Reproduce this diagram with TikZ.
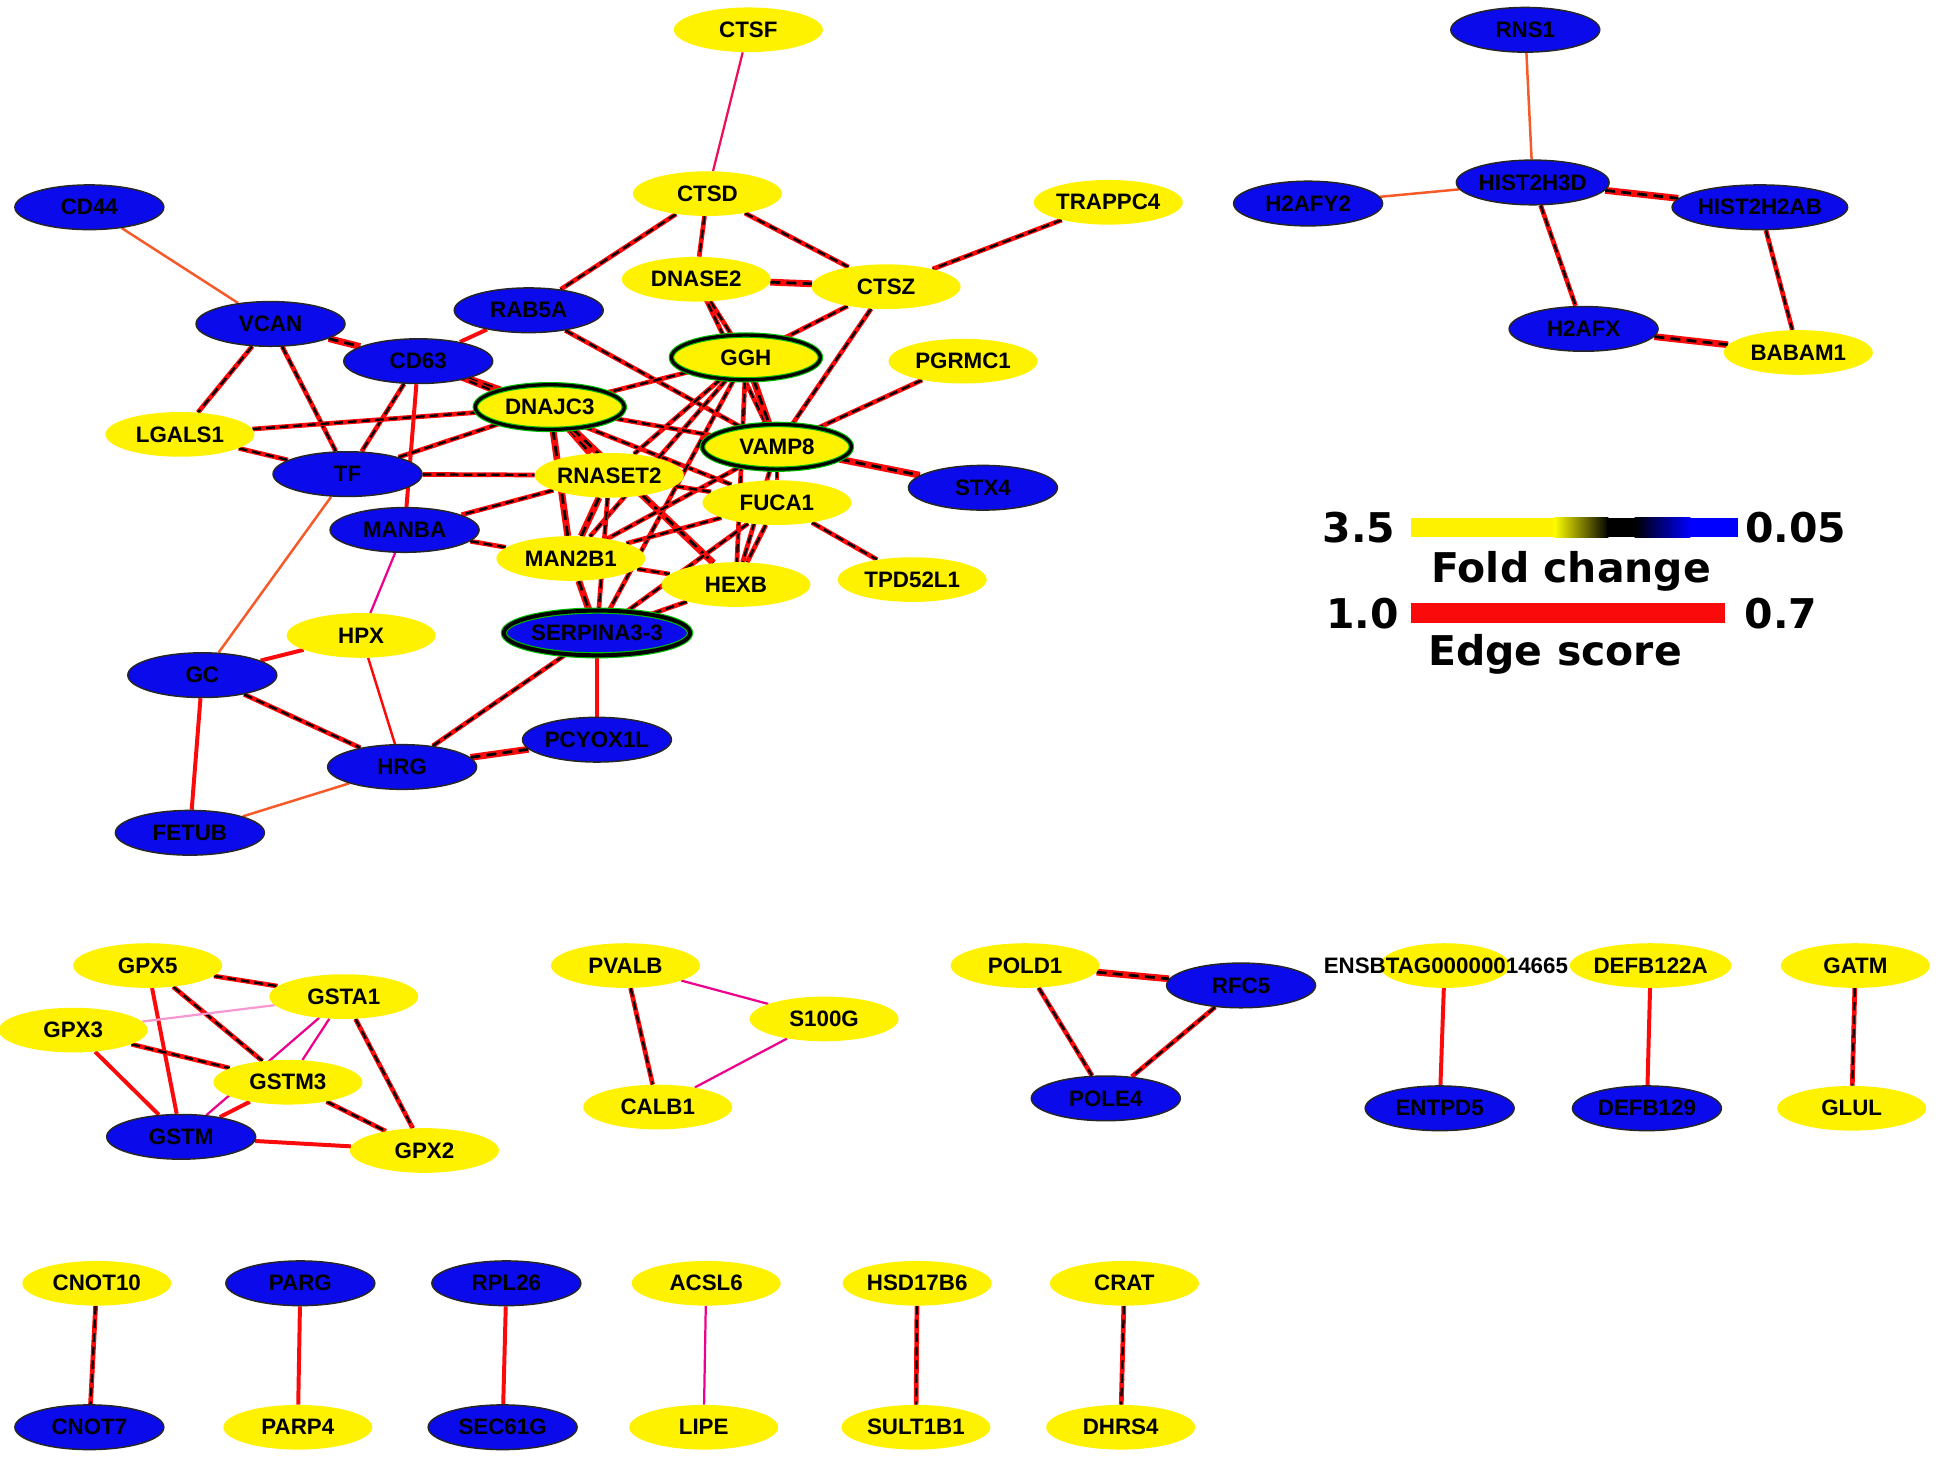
\documentclass[tikz,border=0pt]{standalone}
\usepackage{fontspec}
\setmainfont{Liberation Sans}
\newfontfamily\legfont{DejaVu Sans}
\usetikzlibrary{shapes.geometric}
\pgfdeclarelayer{bg}
\pgfdeclarelayer{edges}
\pgfsetlayers{bg,edges,main}
\definecolor{nodeblue}{RGB}{10,10,235}
\definecolor{edgered}{RGB}{250,10,10}
\definecolor{paleedge}{RGB}{245,90,40}
\tikzset{
  gene/.style={ellipse, minimum width=120bp, minimum height=36bp, inner sep=0pt,
    font=\fontsize{18bp}{20bp}\selectfont\bfseries, text=black},
  Y/.style={gene, fill=yellow},
  B/.style={gene, fill=nodeblue, draw=black!85, line width=1.2bp},
  Ys/.style={gene, fill=yellow, draw=green!75!black, double=black, double distance=2.6bp, line width=0.9bp},
  Bs/.style={gene, fill=nodeblue, draw=green!75!black, double=black, double distance=3.2bp, line width=0.9bp},
  rd/.style={draw=edgered, line width=3.8bp, postaction={draw=black, line width=1.8bp, dash pattern=on 7bp off 4bp}},
  rt/.style={draw=edgered, line width=5.5bp, postaction={draw=black, line width=2.2bp, dash pattern=on 8bp off 5bp}},
  rs/.style={draw=edgered, line width=3.2bp},
  tm/.style={draw=magenta, line width=1.8bp},
  ty/.style={draw=paleedge, line width=2bp},
  leg/.style={font=\legfont\fontsize{33bp}{36bp}\bfseries, text=black, inner sep=0pt},
  etxt/.style={font=\fontsize{18bp}{20bp}\selectfont\bfseries, text=black, inner sep=0pt},
}
\begin{document}
\begin{tikzpicture}[x=1bp, y=-1bp]
\useasboundingbox (0,0) rectangle (1568,1180);
\begin{pgfonlayer}{bg}
\fill[white] (0,0) rectangle (1568,1180);
\end{pgfonlayer}

% ---------- main cluster ----------
\node[Y] (ctsf) at (603,24) {CTSF};
\node[Y] (ctsd) at (570,156) {CTSD};
\node[Y] (trappc4) at (893,163) {TRAPPC4};
\node[B] (cd44) at (72,167) {CD44};
\node[Y] (dnase2) at (561,225) {DNASE2};
\node[Y] (ctsz) at (714,231) {CTSZ};
\node[B] (vcan) at (218,261) {VCAN};
\node[B] (rab) at (426,250) {RAB5A};
\node[B] (cd63) at (337,291) {CD63};
\node[Ys] (ggh) at (601,288) {GGH};
\node[Y] (pgrmc1) at (776,291) {PGRMC1};
\node[Ys] (dnajc3) at (443,328) {DNAJC3};
\node[Y] (lgals1) at (145,350) {LGALS1};
\node[Ys] (vamp8) at (626,360) {VAMP8};
\node[B] (tf) at (280,382) {TF};
\node[Y] (rnaset2) at (491,383) {RNASET2};
\node[B] (stx4) at (792,393) {STX4};
\node[Y] (fuca1) at (626,405) {FUCA1};
\node[B] (manba) at (326,427) {MANBA};
\node[Y] (man2b1) at (460,450) {MAN2B1};
\node[Y] (hexb) at (593,471) {HEXB};
\node[Y] (tpd) at (735,467) {TPD52L1};
\node[Bs] (serp) at (481,510) {SERPINA3-3};
\node[Y] (hpx) at (291,512) {HPX};
\node[B] (gc) at (163,544) {GC};
\node[B] (pcyox) at (481,596) {PCYOX1L};
\node[B] (hrg) at (324,618) {HRG};
\node[B] (fetub) at (153,671) {FETUB};

% ---------- top right cluster ----------
\node[B] (rns1) at (1229,24) {RNS1};
\node[B] (hist3d) at (1235,147) {HIST2H3D};
\node[B] (h2afy2) at (1054,164) {H2AFY2};
\node[B] (hist2ab) at (1418,167) {HIST2H2AB};
\node[B] (h2afx) at (1276,265) {H2AFX};
\node[Y] (babam1) at (1449,284) {BABAM1};

% ---------- legend ----------
\node[leg] (l35) at (1095,425) {3.5};
\node[leg] (l005) at (1447,425) {0.05};
\node[leg] (lfold) at (1266,460) {Fold change};
\node[leg] (l10) at (1098,494) {1.0};
\node[leg] (l07) at (1435,494) {0.7};
\node[leg] (ledge) at (1253,527) {Edge score};
\fill[yellow] (1137,417) rectangle (1252,433);
\shade[left color=yellow, right color=black] (1252,417) rectangle (1296,433);
\fill[black] (1295,417) rectangle (1318,433);
\shade[left color=black, right color=blue] (1317,417) rectangle (1362,433);
\fill[blue] (1361,417) rectangle (1400,433);
\fill[edgered] (1137,486) rectangle (1390,502);

% ---------- bottom clusters ----------
\node[Y] (gpx5) at (119,778) {GPX5};
\node[Y] (gsta1) at (277,803) {GSTA1};
\node[Y] (gpx3) at (59,830) {GPX3};
\node[Y] (gstm3) at (232,872) {GSTM3};
\node[B] (gstm) at (146,916) {GSTM};
\node[Y] (gpx2) at (342,927) {GPX2};
\node[Y] (pvalb) at (504,778) {PVALB};
\node[Y] (s100g) at (664,821) {S100G};
\node[Y] (calb1) at (530,892) {CALB1};
\node[Y] (pold1) at (826,778) {POLD1};
\node[B] (rfc5) at (1000,794) {RFC5};
\node[B] (pole4) at (891,885) {POLE4};
\node[Y, minimum width=105bp] (ens) at (1164,778) {};
\node[etxt] (enstext) at (1165,778) {ENSBTAG00000014665};
\node[B] (entpd5) at (1160,893) {ENTPD5};
\node[Y] (defb122a) at (1330,778) {DEFB122A};
\node[B] (defb129) at (1327,893) {DEFB129};
\node[Y] (gatm) at (1495,778) {GATM};
\node[Y] (glul) at (1492,893) {GLUL};
\node[Y] (cnot10) at (78,1034) {CNOT10};
\node[B] (cnot7) at (72,1150) {CNOT7};
\node[B] (parg) at (242,1034) {PARG};
\node[Y] (parp4) at (240,1150) {PARP4};
\node[B] (rpl26) at (408,1034) {RPL26};
\node[B] (sec61g) at (405,1150) {SEC61G};
\node[Y] (acsl6) at (569,1034) {ACSL6};
\node[Y] (lipe) at (567,1150) {LIPE};
\node[Y] (hsd) at (739,1034) {HSD17B6};
\node[Y] (sult) at (738,1150) {SULT1B1};
\node[Y] (crat) at (906,1034) {CRAT};
\node[Y] (dhrs4) at (903,1150) {DHRS4};

\begin{pgfonlayer}{edges}
% main cluster
\draw[tm, draw=magenta!55!red] (ctsf) -- (ctsd);
\draw[rd] (ctsd) -- (rab);
\draw[rd] (ctsd) -- (dnase2);
\draw[rd] (ctsd) -- (ctsz);
\draw[rd] (trappc4) -- (ctsz);
\draw[rt] (dnase2) -- (ctsz);
\draw[rd] (dnase2) -- (ggh);
\draw[rd] (dnase2.center) -- (vamp8);
\draw[rd] (ctsz) -- (ggh);
\draw[rd] (ctsz) -- (vamp8);
\draw[ty] (cd44) -- (vcan);
\draw[rt] (vcan) -- (cd63);
\draw[rd] (vcan) -- (lgals1);
\draw[rd] (vcan) -- (tf);
\draw[rs] (rab) -- (cd63);
\draw[rd] (rab) -- (vamp8);
\draw[rt] (cd63) -- (dnajc3);
\draw[rd] (cd63.center) -- (fuca1);
\draw[rd] (cd63) -- (tf);
\draw[rs] (cd63) -- (manba);
\draw[rd] (lgals1) -- (dnajc3);
\draw[rd] (lgals1) -- (tf);
\draw[rd] (tf) -- (dnajc3);
\draw[rd] (tf) -- (rnaset2);
\draw[ty] (tf) -- (gc);
\draw[rd] (ggh) -- (dnajc3);
\draw[rt] (ggh) -- (vamp8);
\draw[rd] (ggh) -- (rnaset2);
\draw[rd] (ggh) -- (man2b1);
\draw[rd] (ggh) -- (serp);
\draw[rd] (ggh) -- (hexb);
\draw[rd] (pgrmc1) -- (vamp8);
\draw[rd] (dnajc3) -- (vamp8);
\draw[rt] (dnajc3) -- (rnaset2);
\draw[rt] (dnajc3) -- (man2b1);
\draw[rt] (dnajc3) -- (hexb);
\draw[rt] (vamp8) -- (stx4);
\draw[rd] (vamp8) -- (fuca1);
\draw[rd] (vamp8) -- (hexb);
\draw[rd] (vamp8) -- (man2b1);
\draw[rd] (rnaset2) -- (manba);
\draw[rt] (rnaset2) -- (man2b1);
\draw[rd] (rnaset2) -- (fuca1);
\draw[rd] (rnaset2) -- (serp);
\draw[rd] (fuca1) -- (man2b1);
\draw[rd] (fuca1) -- (hexb);
\draw[rd] (fuca1) -- (serp);
\draw[rd] (fuca1) -- (tpd);
\draw[rd] (man2b1) -- (hexb);
\draw[rt] (man2b1) -- (serp);
\draw[rd] (hexb) -- (serp);
\draw[rd] (manba) -- (man2b1);
\draw[tm] (manba) -- (hpx);
\draw[rs] (gc) -- (hpx);
\draw[rd] (gc) -- (hrg);
\draw[rs] (gc) -- (fetub);
\draw[rs, line width=2bp] (hpx) -- (hrg);
\draw[rd] (hrg) -- (serp);
\draw[rt] (hrg) -- (pcyox);
\draw[ty] (hrg) -- (fetub);
\draw[rs] (serp) -- (pcyox);
% top right
\draw[ty] (rns1) -- (hist3d);
\draw[ty] (h2afy2) -- (hist3d);
\draw[rt] (hist3d) -- (hist2ab);
\draw[rd] (hist3d) -- (h2afx);
\draw[rd] (hist2ab) -- (babam1);
\draw[rt] (h2afx) -- (babam1);
% bottom
\draw[rd] (gpx5) -- (gsta1);
\draw[rs] (gpx5) -- (gstm);
\draw[rd] (gpx5) -- (gstm3);
\draw[tm, draw=magenta!40!white] (gsta1) -- (gpx3);
\draw[tm] (gsta1) -- (gstm3);
\draw[tm] (gsta1) -- (gstm);
\draw[rd] (gsta1) -- (gpx2);
\draw[rd] (gpx3) -- (gstm3);
\draw[rs] (gpx3) -- (gstm);
\draw[rs] (gstm3) -- (gstm);
\draw[rd] (gstm3) -- (gpx2);
\draw[rs] (gstm) -- (gpx2);
\draw[tm] (pvalb) -- (s100g);
\draw[rd] (pvalb) -- (calb1);
\draw[tm] (s100g) -- (calb1);
\draw[rt] (pold1) -- (rfc5);
\draw[rd] (pold1) -- (pole4);
\draw[rd] (rfc5) -- (pole4);
\draw[rs] (ens) -- (entpd5);
\draw[rs] (defb122a) -- (defb129);
\draw[rd] (gatm) -- (glul);
\draw[rd] (cnot10) -- (cnot7);
\draw[rs] (parg) -- (parp4);
\draw[rs] (rpl26) -- (sec61g);
\draw[tm] (acsl6) -- (lipe);
\draw[rd] (hsd) -- (sult);
\draw[rd] (crat) -- (dhrs4);
\end{pgfonlayer}
\end{tikzpicture}
\end{document}
